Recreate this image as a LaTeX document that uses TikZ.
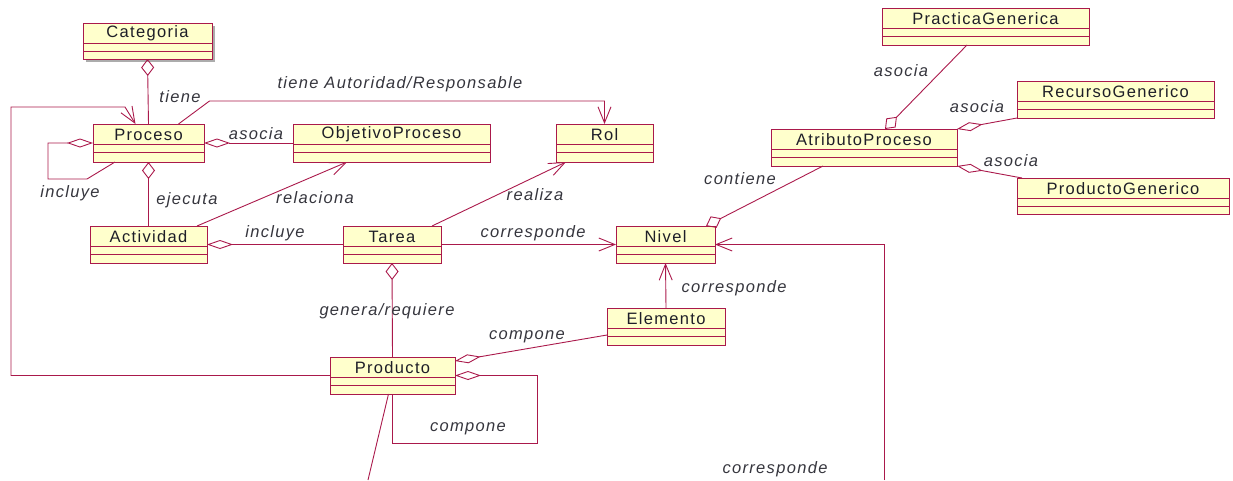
\documentclass[tikz,border=0pt]{standalone}
\usepackage{fontspec}
\newfontfamily\umlfont[LetterSpace=8]{Liberation Sans}
\usetikzlibrary{arrows.meta}
\definecolor{borde}{RGB}{170,25,75}
\definecolor{relleno}{RGB}{255,255,204}
\definecolor{texto}{RGB}{30,30,40}

% caja de clase: nombre, x1, y1, x2, y2, texto
\newcommand{\clase}[6]{%
  \pgfmathsetmacro{\anchoC}{#4-#2}%
  \pgfmathsetmacro{\altoC}{#5-#3}%
  \node[clasebox, minimum width=\anchoC pt, minimum height=\altoC pt] (#1) at ({(#2+#4)/2},{(#3+#5)/2}) {};
  \node[nombre] (#1-t) at ([yshift=-10.5pt]#1.north) {#6};
  \draw[linea] ([yshift=-20pt]#1.north west) -- ([yshift=-20pt]#1.north east);
  \draw[linea] ([yshift=-28pt]#1.north west) -- ([yshift=-28pt]#1.north east);
}

\begin{document}
\begin{tikzpicture}[x=1pt,y=-1pt,
    linea/.style={draw=borde,line width=.9pt},
    clasebox/.style={rectangle,draw=borde,fill=relleno,line width=.9pt,inner sep=0pt,outer sep=0pt},
    nombre/.style={font={\umlfont\fontsize{16.5}{19}\selectfont},text=texto,inner sep=0pt},
    etiqueta/.style={font={\umlfont\fontsize{16.5}{19}\selectfont\itshape},text=texto!90,inner sep=0pt},
    abre/.style={linea,-{Straight Barb[length=16pt,width=13pt]}},
    aggh/.style={linea,{Diamond[open,length=26pt,width=9pt]}-},
    aggv/.style={linea,{Diamond[open,length=17pt,width=13pt]}-},
    aggfin/.style={linea,-{Diamond[open,length=26pt,width=9pt]}}]
    \useasboundingbox (0,0) rectangle (1233,480);
    \fill[gray!65] (86,26) rectangle (215,62);
    \clase{cat}{83}{23}{212}{59}{Categoria}
    \clase{proc}{93}{124}{204}{162}{Proceso}
    \clase{obj}{293}{124}{490}{162}{ObjetivoProceso}
    \clase{rol}{556}{124}{653}{162}{Rol}
    \clase{act}{90}{226}{207}{263}{Actividad}
    \clase{tarea}{343}{226}{441}{263}{Tarea}
    \clase{nivel}{616}{226}{715}{263}{Nivel}
    \clase{elem}{607}{308}{725}{345}{Elemento}
    \clase{prod}{330}{357}{455}{394}{Producto}
    \clase{prac}{882}{8}{1089}{45}{PracticaGenerica}
    \clase{rec}{1017}{81}{1214}{118}{RecursoGenerico}
    \clase{atr}{771}{129}{957}{166}{AtributoProceso}
    \clase{pgen}{1017}{178}{1229}{214}{ProductoGenerico}
    \coordinate (abajo) at (884,480);
    \coordinate (prodfin) at (368,480);
    % relaciones
    \draw[aggv] (cat.south) -- (proc.north);
    \draw[aggv] (proc.south) -- (act.north);
    \draw[aggh] (proc.east) -- (obj.west);
    \draw[aggh] (proc.west) -- ++(-45,0) -- ++(0,36) -- ++(39,0) -- ([xshift=22pt]proc.south west);
    \draw[abre] ([xshift=30pt]proc.north) -- ++(31,-23) -| (rol.north);
    \draw[abre] ([xshift=-10pt]act.north east) -- ([xshift=54pt]obj.south west);
    \draw[aggh] (act.east) -- (tarea.west);
    \draw[abre] ([xshift=-9pt]tarea.north east) -- ([xshift=10pt]rol.south west);
    \draw[abre] (tarea.east) -- (nivel.west);
    \draw[aggv] (tarea.south) -- (prod.north);
    \draw[aggfin] ([yshift=-27pt]elem.north west) -- ([yshift=-4pt]prod.north east);
    \draw[aggfin] (prod.south) -- ++(0,49) -| ([xshift=82pt]prod.east) -- (prod.east);
    \draw[linea] ([xshift=-4pt]prod.south) -- (prodfin);
    \draw[abre] (prod.west) -| (11,107) -- (125,107) -- ([xshift=-13pt]proc.north);
    \draw[abre] (elem.north) -- (nivel.south);
    \draw[abre] (abajo) |- (nivel.east);
    \draw[aggv] ([xshift=-9pt]nivel.north east) -- ([xshift=52pt]atr.south west);
    \draw[aggv] ([xshift=114pt]atr.north west) -- ([xshift=85pt]prac.south west);
    \draw[aggh] (atr.north east) -- (rec.south west);
    \draw[aggh] (atr.south east) -- ([xshift=5pt]pgen.north west);
    % etiquetas
    \node[etiqueta] (l1) at (180,97) {tiene};
    \node[etiqueta] (l2) at (400,84) {tiene Autoridad/Responsable};
    \node[etiqueta] (l3) at (256,134) {asocia};
    \node[etiqueta] (l4) at (70,193) {incluye};
    \node[etiqueta] (l5) at (187,200) {ejecuta};
    \node[etiqueta] (l6) at (315,198) {relaciona};
    \node[etiqueta] (l7) at (535,195) {realiza};
    \node[etiqueta] (l8) at (275,233) {incluye};
    \node[etiqueta] (l9) at (533,233) {corresponde};
    \node[etiqueta] (l10) at (387,311) {genera/requiere};
    \node[etiqueta] (l11) at (527,337) {compone};
    \node[etiqueta] (l12) at (468,429) {compone};
    \node[etiqueta] (l13) at (734,288) {corresponde};
    \node[etiqueta] (l14) at (775,469) {corresponde};
    \node[etiqueta] (l15) at (740,179) {contiene};
    \node[etiqueta] (l16) at (901,71) {asocia};
    \node[etiqueta] (l17) at (977,107) {asocia};
    \node[etiqueta] (l18) at (1011,161) {asocia};
\end{tikzpicture}
\end{document}
